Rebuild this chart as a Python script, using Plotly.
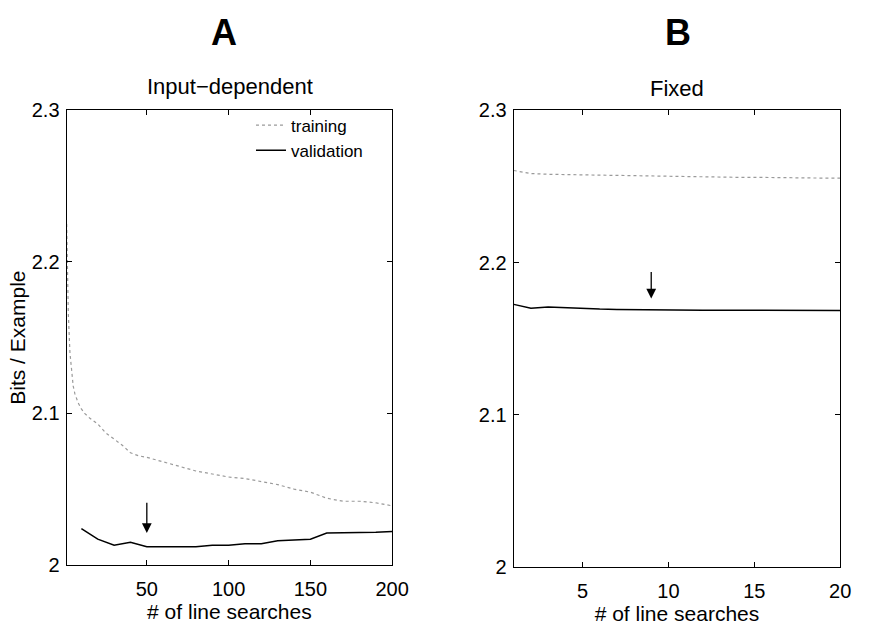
import plotly.graph_objects as go

# Panel A: input-dependent model
a_train_x = [1, 2, 3, 4, 5, 6, 8, 10, 12, 15, 20, 25, 30, 35, 40, 45, 50, 60, 70, 80,
             90, 100, 110, 120, 130, 140, 150, 160, 170, 180, 190, 200]
a_train_y = [2.225, 2.166, 2.140, 2.126, 2.118, 2.113, 2.107, 2.103, 2.100, 2.097, 2.093,
             2.087, 2.083, 2.079, 2.074, 2.072, 2.071, 2.068, 2.065, 2.062, 2.060, 2.058,
             2.057, 2.055, 2.053, 2.050, 2.048, 2.044, 2.042, 2.042, 2.041, 2.039]
a_val_x = [10, 20, 30, 40, 50, 60, 70, 80, 90, 100, 110, 120, 130, 140, 150, 160, 170,
           180, 190, 200]
a_val_y = [2.024, 2.017, 2.013, 2.015, 2.012, 2.012, 2.012, 2.012, 2.013, 2.013, 2.014,
           2.014, 2.016, 2.0165, 2.017, 2.021, 2.021, 2.021, 2.0215, 2.022]
a_stop = 50

# Panel B: fixed model
b_x = list(range(1, 21))
b_train_y = [2.2605, 2.2585, 2.2580, 2.2578, 2.2575, 2.2573, 2.2570, 2.2570, 2.2568,
             2.2566, 2.2565, 2.2563, 2.2562, 2.2560, 2.2560, 2.2558, 2.2557, 2.2556,
             2.2555, 2.2555]
b_val_y = [2.1725, 2.1700, 2.1708, 2.1702, 2.1697, 2.1694, 2.1692, 2.1690, 2.1688,
           2.1687, 2.1686, 2.1686, 2.1686, 2.1686, 2.1685, 2.1685, 2.1685, 2.1685,
           2.1685, 2.1685]
b_stop = 9

y_ticks = [2, 2.1, 2.2, 2.3]
y_ticktext = ["2", "2.1", "2.2", "2.3"]
a_xticks = [50, 100, 150, 200]
b_xticks = [5, 10, 15, 20]

W, H = 869, 628
FONT = "Liberation Sans, Arial, Helvetica, sans-serif"

def px_x(p):
    return p / W

def px_y(p):
    return 1 - p / H

train_style = dict(color="#9a9a9a", width=1.2, dash="dot")
val_style = dict(color="black", width=1.5)

fig = go.Figure()
fig.add_trace(go.Scatter(x=a_train_x, y=a_train_y, mode="lines", line=train_style,
                         name="training", xaxis="x", yaxis="y"))
fig.add_trace(go.Scatter(x=a_val_x, y=a_val_y, mode="lines", line=val_style,
                         name="validation", xaxis="x", yaxis="y"))
fig.add_trace(go.Scatter(x=b_x, y=b_train_y, mode="lines", line=train_style,
                         showlegend=False, xaxis="x2", yaxis="y2"))
fig.add_trace(go.Scatter(x=b_x, y=b_val_y, mode="lines", line=val_style,
                         showlegend=False, xaxis="x2", yaxis="y2"))

axis_common = dict(
    showline=True, linecolor="black", linewidth=1.2, mirror="ticks",
    ticks="inside", ticklen=5, tickwidth=1, tickcolor="black",
    showgrid=False, zeroline=False,
    tickfont=dict(family=FONT, size=20, color="black"),
)
x_common = dict(ticklabelstandoff=6,
                title=dict(text="# of line searches", font=dict(family=FONT, size=21),
                           standoff=2))

fig.update_layout(
    width=W, height=H,
    margin=dict(l=0, r=0, t=0, b=0),
    paper_bgcolor="white", plot_bgcolor="white",
    font=dict(family=FONT, color="black"),
    xaxis=dict(domain=[px_x(68), px_x(400)], range=[1, 200], tickvals=a_xticks,
               anchor="y", **x_common, **axis_common),
    yaxis=dict(domain=[px_y(574), px_y(103)], range=[2, 2.3], tickvals=y_ticks,
               ticktext=y_ticktext, anchor="x", ticklabelstandoff=2,
               title=dict(text="Bits / Example", font=dict(family=FONT, size=21),
                          standoff=0),
               **axis_common),
    xaxis2=dict(domain=[px_x(524), px_x(857)], range=[1, 20], tickvals=b_xticks,
                anchor="y2", **x_common, **axis_common),
    yaxis2=dict(domain=[px_y(576), px_y(103)], range=[2, 2.3], tickvals=y_ticks,
                ticktext=y_ticktext, anchor="x2", ticklabelstandoff=2, **axis_common),
    legend=dict(x=px_x(256), y=px_y(100), xanchor="left", yanchor="top",
                bgcolor="rgba(0,0,0,0)", font=dict(family=FONT, size=17),
                tracegroupgap=0),
    showlegend=True,
)

# Panel letters and subtitles
def label(x, y, text, size):
    fig.add_annotation(x=px_x(x), y=px_y(y), xref="paper", yref="paper", text=text,
                       xanchor="center", yanchor="middle", showarrow=False,
                       font=dict(family=FONT, size=size, color="black"))

label(228, 22, "<b>A</b>", 36)
label(692, 22, "<b>B</b>", 36)
label(235, 78, "Input\u2212dependent", 22)
label(691, 80, "Fixed", 22)

# Arrows marking the early-stopping point on each validation curve
a_stop_y = a_val_y[a_val_x.index(a_stop)]
b_stop_y = b_val_y[b_x.index(b_stop)]
fig.add_annotation(x=a_stop, y=a_stop_y + 0.0090, ax=a_stop, ay=a_stop_y + 0.030,
                   xref="x", yref="y", axref="x", ayref="y", text="",
                   showarrow=True, arrowhead=2, arrowsize=1.5, arrowwidth=1.3,
                   arrowcolor="black")
fig.add_annotation(x=b_stop, y=b_stop_y + 0.0075, ax=b_stop, ay=b_stop_y + 0.026,
                   xref="x2", yref="y2", axref="x2", ayref="y2", text="",
                   showarrow=True, arrowhead=2, arrowsize=1.5, arrowwidth=1.3,
                   arrowcolor="black")

fig.write_html("out.html")
